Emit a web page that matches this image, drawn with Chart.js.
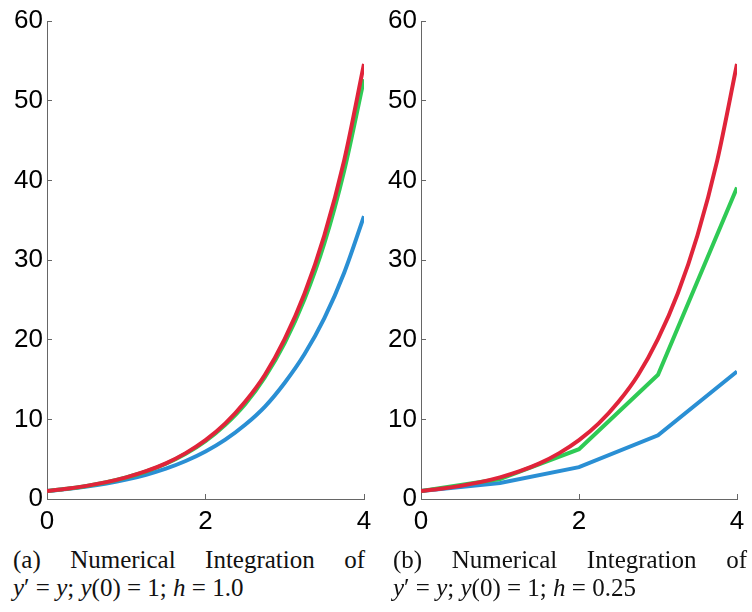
<!DOCTYPE html>
<html>
<head>
<meta charset="utf-8">
<script src="https://cdn.jsdelivr.net/npm/chart.js@4.4.1/dist/chart.umd.min.js"></script>
<style>
  body { margin:0; background:#fff; width:752px; height:612px; position:relative; overflow:hidden; }
  canvas { position:absolute; top:0; }
  .cap { position:absolute; font-family:"Liberation Serif","DejaVu Serif",serif; font-size:25px; color:#111; }
  .cap .l1 { display:flex; justify-content:space-between; height:28px; }
  .cap .l2 { white-space:nowrap; }
  .cap i { font-style:italic; }
</style>
</head>
<body>
<canvas id="left" width="376" height="533" style="left:0"></canvas>
<canvas id="right" width="378" height="533" style="left:374px"></canvas>
<div class="cap" style="left:13px; top:546px; width:352px">
  <div class="l1"><span>(a)</span><span>Numerical</span><span>Integration</span><span>of</span></div>
  <div class="l2"><i>y</i>′ = <i>y</i>; <i>y</i>(0) = 1; <i>h</i> = 1.0</div>
</div>
<div class="cap" style="left:393px; top:546px; width:354px">
  <div class="l1"><span>(b)</span><span>Numerical</span><span>Integration</span><span>of</span></div>
  <div class="l2"><i>y</i>′ = <i>y</i>; <i>y</i>(0) = 1; <i>h</i> = 0.25</div>
</div>
<script>
// x positions for the fine grid and the coarse grid
var xFine = [0, 0.25, 0.5, 0.75, 1, 1.25, 1.5, 1.75, 2, 2.25, 2.5, 2.75, 3, 3.25, 3.5, 3.75, 4]
var xCoarse = [0, 1, 2, 3, 4]

// exact solution (red), same in both panels
var exactY = [1, 1.28, 1.65, 2.12, 2.72, 3.49, 4.48, 5.76, 7.39, 9.49, 12.2, 15.6, 20.1, 25.8, 33.1, 42.5, 54.6]

// left panel
var leftGreen = [1, 1.28, 1.64, 2.10, 2.70, 3.45, 4.42, 5.67, 7.26, 9.31, 11.9, 15.3, 19.6, 25.1, 32.1, 41.2, 52.7]
var leftBlue = [1, 1.25, 1.56, 1.95, 2.44, 3.05, 3.81, 4.77, 5.96, 7.45, 9.31, 11.6, 14.6, 18.2, 22.7, 28.4, 35.5]

// right panel
var rightGreen = [1, 2.5, 6.25, 15.6, 39.1]
var rightBlue = [1, 2, 4, 8, 16]

var xTicks = [0, 2, 4]
var yTicks = [0, 10, 20, 30, 40, 50, 60]

var red = '#e0243a'
var green = '#2fca55'
var blue = '#2a8fd4'

function pts(xs, ys) {
    return xs.map(function (x, i) { return { x: x, y: ys[i] } })
}

function makeChart(id, sets, padRight) {
    var ctx = document.getElementById(id)
    return new Chart(ctx, {
        type: 'line',
        data: {
            datasets: sets.map(function (s) {
                return {
                    data: s.data,
                    borderColor: s.color,
                    borderWidth: 4,
                    pointRadius: 0,
                    fill: false,
                    tension: 0,
                    cubicInterpolationMode: s.smooth ? 'monotone' : 'default'
                }
            })
        },
        options: {
            responsive: false,
            animation: false,
            layout: { padding: { top: 21, right: padRight, left: 0, bottom: 0 } },
            plugins: { legend: { display: false }, tooltip: { enabled: false } },
            scales: {
                x: {
                    type: 'linear',
                    min: 0, max: 4,
                    afterBuildTicks: function (s) { s.ticks = xTicks.map(function (v) { return { value: v } }) },
                    afterFit: function (s) { s.height = 34; s.paddingLeft = 0; s.paddingRight = 0 },
                    grid: { drawOnChartArea: false, drawTicks: true, tickLength: -5, color: '#666' },
                    border: { display: true, color: '#666', width: 1 },
                    ticks: { color: '#000', padding: 12, maxRotation: 0, font: { family: 'Liberation Sans', size: 26 } }
                },
                y: {
                    min: 0, max: 60,
                    afterBuildTicks: function (s) { s.ticks = yTicks.map(function (v) { return { value: v } }) },
                    afterFit: function (s) { s.width = 47; s.paddingTop = 0; s.paddingBottom = 0 },
                    grid: { drawOnChartArea: false, drawTicks: true, tickLength: -5, color: '#666' },
                    border: { display: true, color: '#666', width: 1 },
                    ticks: { color: '#000', padding: 9, font: { family: 'Liberation Sans', size: 26 } }
                }
            }
        }
    })
}

makeChart('left', [
    { data: pts(xFine, exactY), color: red, smooth: true },
    { data: pts(xFine, leftGreen), color: green, smooth: true },
    { data: pts(xFine, leftBlue), color: blue, smooth: true }
], 12)

makeChart('right', [
    { data: pts(xFine, exactY), color: red, smooth: true },
    { data: pts(xCoarse, rightGreen), color: green },
    { data: pts(xCoarse, rightBlue), color: blue }
], 15)
</script>
</body>
</html>
